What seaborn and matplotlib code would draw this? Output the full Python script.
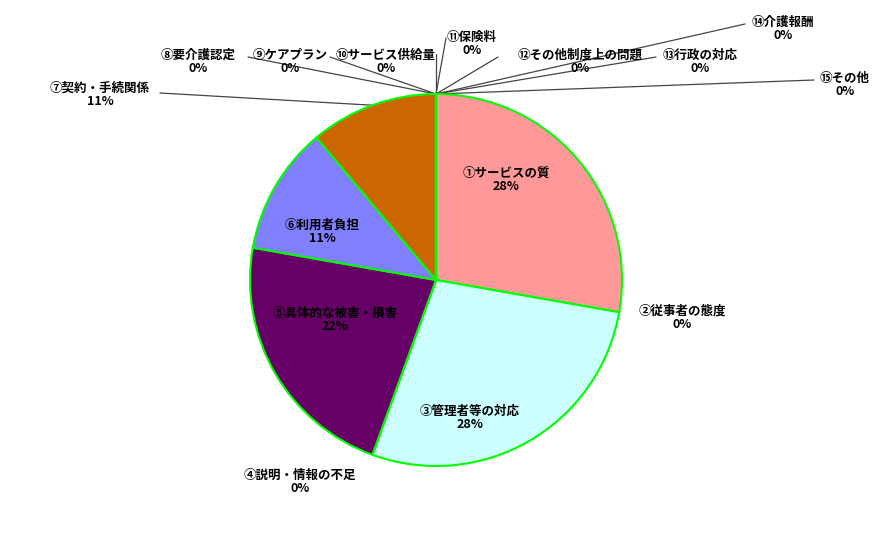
import numpy as np
import matplotlib
matplotlib.use("Agg")
import matplotlib.pyplot as plt
import seaborn as sns

# data
labels = ["①サービスの質", "②従事者の態度", "③管理者等の対応", "④説明・情報の不足",
          "⑤具体的な被害・損害", "⑥利用者負担", "⑦契約・手続関係", "⑧要介護認定",
          "⑨ケアプラン", "⑩サービス供給量", "⑪保険料", "⑫その他制度上の問題",
          "⑬行政の対応", "⑭介護報酬", "⑮その他"]
counts = [5, 0, 5, 0, 4, 2, 2, 0, 0, 0, 0, 0, 0, 0, 0]
pcts = ["28%", "0%", "28%", "0%", "22%", "11%", "11%", "0%", "0%", "0%", "0%", "0%", "0%", "0%", "0%"]
colors = ["#FF9999", "#993366", "#CCFFFF", "#FFFFCC", "#660066", "#8080FF", "#CC6600", "#0066CC",
          "#CCCCFF", "#000080", "#FF00FF", "#FFFF00", "#00FFFF", "#800080", "#800000"]

# label layout (pixel coords of text centre) and leader line start (None = no line)
label_pos = [(506, 180), (682, 318), (470, 418), (300, 482), (335, 320), (322, 232), (100, 95),
             (198, 62), (290, 62), (386, 62), (472, 44), (580, 62), (700, 62), (783, 29), (845, 85)]
leader_from = [None, None, None, None, None, None, (160, 93),
               (248, 57), (330, 57), (436, 54), (446, 38), (498, 57), (656, 57), (745, 24), (814, 80)]

sns.set_style("white")
plt.rcParams["font.family"] = ["Noto Sans CJK JP", "DejaVu Sans"]

fig = plt.figure(figsize=(8.77, 5.57), dpi=100)
ax = fig.add_axes([0, 0, 1, 1])

cx, cy, r = 436, 280, 186
wedges, _ = ax.pie(counts, colors=colors, startangle=-90, counterclock=True,
                   center=(cx, cy), radius=r,
                   wedgeprops=dict(edgecolor="#00FF00", linewidth=1.5))

ax.set_xlim(0, 877)
ax.set_ylim(557, 0)
ax.set_aspect("equal")
ax.axis("off")

for i, w in enumerate(wedges):
    tx, ty = label_pos[i]
    ax.text(tx, ty, f"{labels[i]}\n{pcts[i]}", ha="center", va="center",
            fontsize=9, fontweight="bold", fontstyle="italic", color="black",
            linespacing=1.05)
    if leader_from[i] is not None:
        ang = np.deg2rad((w.theta1 + w.theta2) / 2)
        ex, ey = cx + r * np.cos(ang), cy + r * np.sin(ang)
        lx, ly = leader_from[i]
        ax.plot([lx, ex], [ly, ey], color="#444444", linewidth=0.9, zorder=0)

fig.savefig("out.png", dpi=100)
